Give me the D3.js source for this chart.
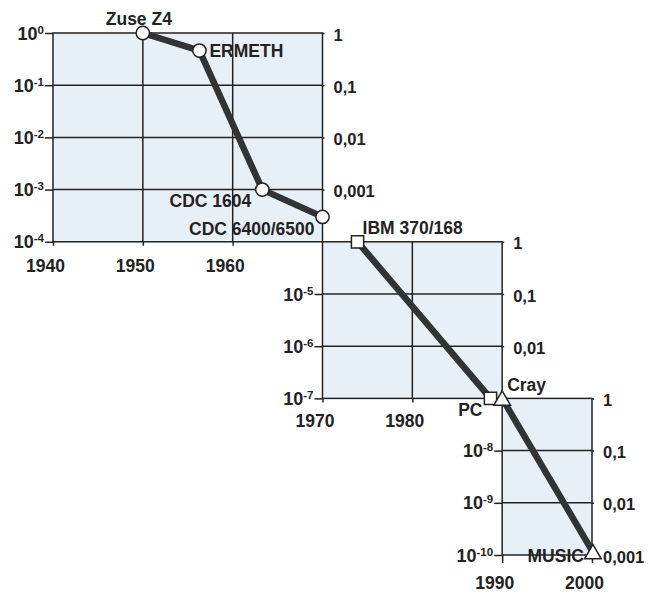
<!DOCTYPE html>
<html>
<head>
<meta charset="utf-8">
<script src="https://cdn.jsdelivr.net/npm/d3@7"></script>
<style>
  body { margin: 0; background: #fff; }
  svg text { font-family: "Liberation Sans", Arial, sans-serif; font-weight: bold; fill: #222; }
</style>
</head>
<body>
<div id="chart"></div>
<script>
// machines, year and relative cost (log scale)
const names = ["Zuse Z4", "ERMETH", "CDC 1604", "CDC 6400/6500", "IBM 370/168", "PC", "Cray", "MUSIC"];
const years = [1950, 1956.3, 1963.3, 1970, 1973.9, 1988.7, 1990, 2000.1];
const values = [1, 0.46, 1e-3, 3e-4, 1e-4, 1e-7, 1e-7, 1.14e-10];
const segment = [0, 0, 0, 0, 1, 1, 2, 2];

// the three staggered panels
const panelYears = [[1940, 1970], [1970, 1990], [1990, 2000]];
const panelValues = [[1, 1e-4], [1e-4, 1e-7], [1e-7, 1e-10]];
const gridYears = [[1950, 1960], [1980], []];
const leftExponents = [[0, -1, -2, -3, -4], [-5, -6, -7], [-8, -9, -10]];
const rightLabels = [["1", "0,1", "0,01", "0,001"], ["1", "0,1", "0,01"], ["1", "0,1", "0,01", "0,001"]];
const yearTicks = [[1940, 1950, 1960], [1970, 1980], [1990, 2000]];

const width = 649, height = 592;

const x = d3.scaleLinear().domain([1940, 2000]).range([53, 592]);
const y = d3.scaleLog().domain([1, 1e-10]).range([33, 555]);

const svg = d3.select("#chart").append("svg")
  .attr("width", width)
  .attr("height", height);

const ink = "#222";
const tickLen = [4, 4, 8];
const yearPad = [14, 12, 14];

panelYears.forEach((py, i) => {
  const pv = panelValues[i];
  const x0 = x(py[0]), x1 = x(py[1]);
  const y0 = y(pv[0]), y1 = y(pv[1]);
  const g = svg.append("g");

  g.append("rect")
    .attr("x", x0).attr("y", y0)
    .attr("width", x1 - x0).attr("height", y1 - y0)
    .attr("fill", "#e8f0f7");

  // horizontal gridlines
  const inner = leftExponents[i].map(e => Math.pow(10, e)).filter(v => v < pv[0] && v > pv[1]);
  g.selectAll(".hgrid").data(inner).enter().append("line")
    .attr("x1", x0).attr("x2", x1)
    .attr("y1", d => y(d)).attr("y2", d => y(d))
    .attr("stroke", ink).attr("stroke-width", 1.5);

  g.selectAll(".vgrid").data(gridYears[i]).enter().append("line")
    .attr("x1", d => x(d)).attr("x2", d => x(d))
    .attr("y1", y0).attr("y2", y1)
    .attr("stroke", ink).attr("stroke-width", 1.5);

  g.append("rect")
    .attr("x", x0).attr("y", y0)
    .attr("width", x1 - x0).attr("height", y1 - y0)
    .attr("fill", "none")
    .attr("stroke", ink).attr("stroke-width", 1.5);

  // left axis: powers of ten
  const left = g.append("g")
    .attr("transform", `translate(${x0},0)`)
    .call(d3.axisLeft(y)
      .tickValues(leftExponents[i].map(e => Math.pow(10, e)))
      .tickSize(8)
      .tickFormat(""));
  left.select(".domain").remove();
  left.selectAll(".tick line").attr("stroke", ink).attr("stroke-width", 1.5);
  left.selectAll(".tick").each(function (d) {
    const t = d3.select(this).append("text")
      .attr("x", -9).attr("dy", 6)
      .attr("text-anchor", "end")
      .style("font-size", "18px");
    t.append("tspan").text("10");
    t.append("tspan").attr("dy", -6).style("font-size", "11.5px")
      .text(String(Math.round(Math.log10(d))));
  });

  // right axis: relative scale within each panel
  const rightVals = rightLabels[i].map((_, k) => pv[0] / Math.pow(10, k));
  const right = g.append("g")
    .attr("transform", `translate(${x1},0)`)
    .call(d3.axisRight(y)
      .tickValues(rightVals)
      .tickSize(2)
      .tickPadding(9)
      .tickFormat((d, k) => rightLabels[i][k]));
  right.select(".domain").remove();
  right.selectAll(".tick line").attr("stroke", ink).attr("stroke-width", 1.5);
  right.selectAll(".tick text")
    .attr("text-anchor", "start")
    .attr("dy", 7)
    .style("font-size", "16.5px")
    .style("font-family", null);

  // bottom axis: years
  const bottom = g.append("g")
    .attr("transform", `translate(0,${y1})`)
    .call(d3.axisBottom(x)
      .tickValues(yearTicks[i])
      .tickSize(tickLen[i])
      .tickPadding(yearPad[i])
      .tickFormat(d3.format("d")));
  bottom.select(".domain").remove();
  bottom.selectAll(".tick line").attr("stroke", ink).attr("stroke-width", 1.5);
  bottom.selectAll(".tick text")
    .attr("dx", -8)
    .style("font-size", "17.5px")
    .style("font-family", null);
});

// data lines, one per panel
const points = names.map((n, i) => ({ name: n, year: years[i], value: values[i], seg: segment[i] }));
const line = d3.line().x(d => x(d.year)).y(d => y(d.value));

svg.selectAll(".trend")
  .data(d3.groups(points, d => d.seg))
  .enter().append("path")
  .attr("d", d => line(d[1]))
  .attr("fill", "none")
  .attr("stroke", "#303434")
  .attr("stroke-width", 6.5)
  .attr("stroke-linejoin", "round");

const symbols = [d3.symbolCircle, d3.symbolSquare, d3.symbolTriangle];
const symbolSize = [140, 150, 120];

svg.selectAll(".marker")
  .data(points)
  .enter().append("path")
  .attr("transform", d => `translate(${x(d.year)},${y(d.value) + (d.seg === 2 ? 2 : 0)})`)
  .attr("d", d => d3.symbol(symbols[d.seg], symbolSize[d.seg])())
  .attr("fill", "#fff")
  .attr("stroke", ink)
  .attr("stroke-width", 1.5);

// label placement around each marker
const labelPlace = {
  "Zuse Z4": ["middle", -4, -8],
  "ERMETH": ["start", 10, 6],
  "CDC 1604": ["end", -11, 17],
  "CDC 6400/6500": ["end", -8, 18],
  "IBM 370/168": ["start", 5, -8],
  "PC": ["end", -8, 18],
  "Cray": ["start", 5, -7],
  "MUSIC": ["end", -9, 10]
};

svg.selectAll(".label")
  .data(points)
  .enter().append("text")
  .attr("x", d => x(d.year) + labelPlace[d.name][1])
  .attr("y", d => y(d.value) + labelPlace[d.name][2])
  .attr("text-anchor", d => labelPlace[d.name][0])
  .style("font-size", "17.5px")
  .text(d => d.name);
</script>
</body>
</html>
